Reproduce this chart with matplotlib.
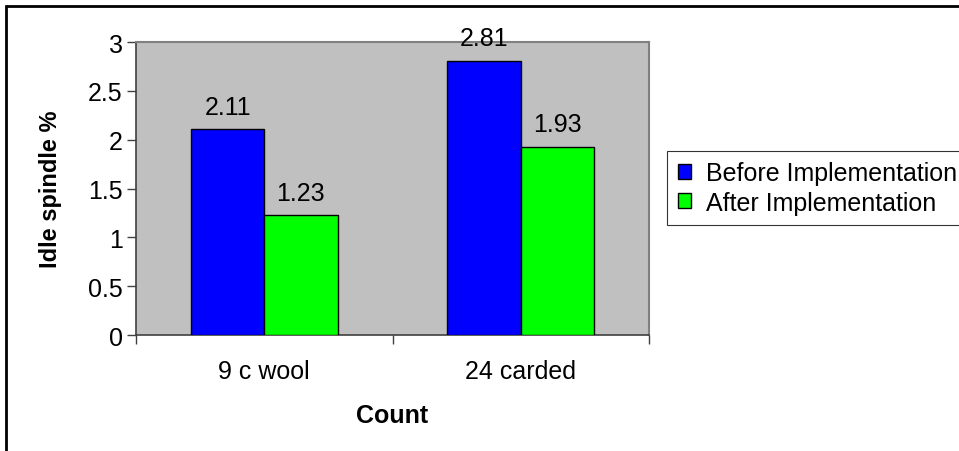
import numpy as np
import matplotlib
matplotlib.use("Agg")
import matplotlib.pyplot as plt
from matplotlib.patches import Rectangle

plt.rcParams['font.family'] = ['Liberation Sans', 'DejaVu Sans']

categories = ["9 c wool", "24 carded"]
series_names = ["Before Implementation", "After Implementation"]
before = [2.11, 2.81]
after = [1.23, 1.93]
colors = ["#0000FF", "#00FF00"]
yticks = [0, 0.5, 1, 1.5, 2, 2.5, 3]

W, H = 959, 452
FS = 18
fig = plt.figure(figsize=(W / 100, H / 100), dpi=100)

# outer chart border (right/bottom run off the picture)
fig.patches.append(Rectangle((6 / W, -0.05), 1.1, 1 - 7 / H + 0.05,
                             transform=fig.transFigure, fill=False,
                             edgecolor="black", linewidth=2))

ax = fig.add_axes([136 / W, 1 - 336 / H, (649 - 136) / W, (336 - 43) / H])
ax.set_facecolor("#C0C0C0")

x = np.arange(len(categories))
bw = 0.286
vals = [before, after]
for i, (name, v) in enumerate(zip(series_names, vals)):
    pos = x + (i - 0.5) * bw
    bars = ax.bar(pos, v, width=bw, color=colors[i], edgecolor="black",
                  linewidth=1, label=name, zorder=3)
    for b, val in zip(bars, v):
        ax.annotate(f"{val:.2f}", (b.get_x() + b.get_width() / 2, val),
                    xytext=(0, 11), textcoords="offset points",
                    ha="center", va="baseline", fontsize=FS)

ax.set_xlim(-0.5, len(categories) - 0.5)
ax.set_ylim(0, 3)
ax.set_yticks(yticks)
ax.set_yticklabels([f"{t:g}" for t in yticks], fontsize=FS)
ax.set_xticks(x)
ax.set_xticklabels(categories, fontsize=FS)
ax.tick_params(axis="x", length=0, pad=17)
ax.tick_params(axis="y", length=6.5, width=1, color="#404040", pad=3)

# category separator ticks
ax.set_xticks(np.arange(-0.5, len(categories)), minor=True)
ax.tick_params(axis="x", which="minor", length=6.5, width=1, color="#404040")

for side in ["top", "right"]:
    ax.spines[side].set_color("#808080")
    ax.spines[side].set_linewidth(1.5)
for side in ["left", "bottom"]:
    ax.spines[side].set_color("#404040")
    ax.spines[side].set_linewidth(1.2)

ax.set_ylabel("Idle spindle %", fontsize=17, fontweight="bold", labelpad=19)
ax.set_xlabel("Count", fontsize=FS, fontweight="bold", labelpad=15)

leg = fig.legend(loc="upper left", bbox_to_anchor=(667 / W, 1 - 152 / H),
                 fontsize=FS, frameon=True, fancybox=False, handlelength=0.52,
                 handleheight=0.52, handletextpad=0.62, borderpad=0.42,
                 labelspacing=0.2, borderaxespad=0)
leg.get_frame().set_edgecolor("black")
leg.get_frame().set_linewidth(0.8)

fig.savefig("out.png", dpi=100)
